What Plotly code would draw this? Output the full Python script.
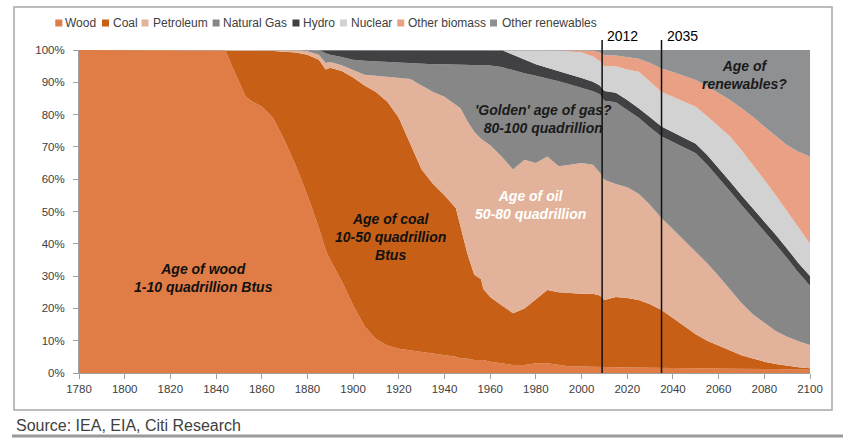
import plotly.graph_objects as go

# ---------------- data (share of world primary energy, %) ----------------
years = [1780, 1800, 1820, 1840, 1844, 1847, 1850, 1853, 1856, 1860, 1865, 1870, 1875,
         1880, 1885, 1888, 1890, 1895, 1900, 1905, 1910, 1915, 1920, 1925, 1930, 1935,
         1940, 1945, 1947, 1950, 1953, 1956, 1957, 1960, 1965, 1970, 1975, 1980, 1985,
         1990, 1995, 2000, 2005, 2008, 2010, 2015, 2020, 2025, 2030, 2035, 2040, 2045,
         2050, 2055, 2060, 2065, 2070, 2075, 2080, 2085, 2090, 2095, 2100]

wood = [100, 100, 100, 100, 100, 95, 90, 85.5, 84, 82.5, 79, 72, 64,
        55, 45, 38, 35, 28.5, 21, 14.5, 10.5, 8.5, 7.5, 7, 6.5, 6,
        5.5, 5, 4.5, 4.5, 4, 4, 4, 3.5, 3, 2.5, 2.5, 3, 3,
        2.5, 2, 2, 2, 1.8, 1.8, 1.8, 1.7, 1.7, 1.6, 1.6, 1.5, 1.5,
        1.5, 1.4, 1.4, 1.3, 1.3, 1.2, 1.2, 1.2, 1.1, 1.1, 1.0]

coal = [0, 0, 0, 0, 0, 5, 10, 14.5, 16, 17.3, 20.7, 27.5, 35.2,
        43.5, 52, 56, 59.5, 65, 70.5, 74.5, 76.5, 75.5, 71.5, 64, 56.5, 52.5,
        49.5, 46, 40.5, 32.5, 26.5, 25, 22, 20, 18, 16, 17.5, 20, 22.7,
        22.5, 22.7, 22.5, 22.5, 22.2, 20.8, 21.7, 21.5, 20.9, 19.7, 17.9, 15.5, 13,
        10.5, 8.6, 7.1, 5.7, 4.2, 3.3, 2.3, 1.6, 1.1, 0.7, 0.5]

petroleum = [0, 0, 0, 0, 0, 0, 0, 0, 0, 0.2, 0.3, 0.5, 0.8,
             1.1, 1.5, 2, 1.8, 1.8, 2.3, 3.3, 5, 7.7, 12.5, 20, 26, 28.5,
             30.5, 32, 37, 41, 44.2, 43.5, 46, 47, 46, 44.5, 46, 42, 41.3,
             39, 39.8, 40.5, 40, 38, 37.2, 35, 34.3, 32.9, 30.7, 28.5, 27.5, 26.5,
             25.8, 24, 21.5, 18.7, 16.2, 13.7, 12, 10.2, 9, 8, 7.2]

natural_gas = [0, 0, 0, 0, 0, 0, 0, 0, 0, 0, 0, 0, 0,
               0.4, 1.5, 3, 2.2, 2.5, 3.2, 4.4, 4.5, 4.6, 4.5, 4.8, 6.7, 8.6,
               10.1, 12.5, 13.5, 17.5, 20.8, 22.9, 23.4, 24.7, 27.7, 30.7, 26.8, 27, 24.2,
               26.3, 24.8, 23.3, 22.7, 24.3, 24.5, 25.3, 24, 23.5, 24, 25.2, 27, 28.8,
               30.2, 30.5, 30.5, 30.6, 30.3, 29.8, 28.5, 26.8, 24.3, 21.2, 18.3]

hydro = [0, 0, 0, 0, 0, 0, 0, 0, 0, 0, 0, 0, 0,
         0, 0, 1, 1.5, 2.2, 3.0, 3.3, 3.5, 3.7, 4.0, 4.2, 4.3, 4.4,
         4.4, 4.5, 4.5, 4.5, 4.5, 4.6, 4.6, 4.8, 5.3, 4.8, 4.2, 3.6, 3.3,
         3.2, 3.1, 3.0, 3.0, 2.7, 3.0, 3.0, 3.0, 3.0, 3.2, 3.1, 3.0, 3.0,
         3.0, 3.0, 3.0, 3.0, 3.0, 3.0, 3.0, 3.0, 3.0, 3.0, 3.0]

nuclear = [0, 0, 0, 0, 0, 0, 0, 0, 0, 0, 0, 0, 0,
           0, 0, 0, 0, 0, 0, 0, 0, 0, 0, 0, 0, 0,
           0, 0, 0, 0, 0, 0, 0, 0, 0, 1.5, 3, 4.4, 5.5,
           6.3, 7.1, 7.9, 7.8, 7.5, 7.7, 8.2, 9.5, 11.3, 11, 10.7, 11, 11.2,
           11.4, 12, 13, 13.9, 14, 13.5, 12.8, 12.2, 11.5, 11, 10]

other_biomass = [0, 0, 0, 0, 0, 0, 0, 0, 0, 0, 0, 0, 0,
                 0, 0, 0, 0, 0, 0, 0, 0, 0, 0, 0, 0, 0,
                 0, 0, 0, 0, 0, 0, 0, 0, 0, 0, 0, 0, 0,
                 0.2, 0.5, 0.8, 1.8, 2.7, 3.4, 3.3, 3.8, 4, 5.8, 7.3, 7.7, 8,
                 8.3, 9.3, 10.2, 11.3, 13, 14.8, 16.5, 18.3, 20.5, 23.5, 27]

other_renewables = [0, 0, 0, 0, 0, 0, 0, 0, 0, 0, 0, 0, 0,
                    0, 0, 0, 0, 0, 0, 0, 0, 0, 0, 0, 0, 0,
                    0, 0, 0, 0, 0, 0, 0, 0, 0, 0, 0, 0, 0,
                    0, 0, 0, 0.2, 0.8, 1.6, 1.7, 2.2, 2.7, 4, 5.7, 6.8, 8,
                    9.3, 11.2, 13.3, 15.5, 18, 20.7, 23.7, 26.7, 29.5, 31.5, 33]

series_names = ["Wood", "Coal", "Petroleum", "Natural Gas", "Hydro", "Nuclear",
                "Other biomass", "Other renewables"]
series_values = [wood, coal, petroleum, natural_gas, hydro, nuclear, other_biomass,
                 other_renewables]
series_colors = ["#E07C46", "#C75F17", "#E2B39A", "#878787", "#414144", "#D2D2D2",
                 "#E9A085", "#8F9092"]

x_ticks = list(range(1780, 2101, 20))
y_ticks = list(range(0, 101, 10))
y_tick_labels = [f"{v}%" for v in y_ticks]

marker_years = [2009, 2035]
marker_labels = ["2012", "2035"]

era_texts = ["Age of wood<br>1-10 quadrillion Btus",
             "Age of coal<br>10-50 quadrillion<br>Btus",
             "Age of oil<br>50-80 quadrillion",
             "'Golden' age of gas?<br>80-100 quadrillion",
             "Age of<br>renewables?"]
era_x = [1834.4, 1916.3, 1977.7, 1983.2, 2071.5]
era_y = [29.5, 42, 51.9, 78.6, 92.3]
era_colors = ["#111111", "#111111", "#FFFFFF", "#1A1A1A", "#1A1A1A"]

source_text = "Source: IEA, EIA, Citi Research"

# ---------------- figure ----------------
W, H = 852, 448
L, R, T, B = 79, 42, 50, 75
PW, PH = W - L - R, H - T - B


def px(x):
    return (x - L) / PW


def py(y):
    return (H - B - y) / PH


FONT = "Liberation Sans, Arial, Helvetica, sans-serif"

fig = go.Figure()
for i, (name, vals, col) in enumerate(zip(series_names, series_values, series_colors)):
    fig.add_trace(go.Scatter(
        x=years, y=vals, name=name, mode="lines",
        stackgroup="energy", groupnorm="percent" if i == 0 else None,
        line=dict(width=0), fillcolor=col,
        showlegend=False, hoverinfo="skip"))

shapes = []
annotations = []

# vertical year markers
for yr, lab in zip(marker_years, marker_labels):
    shapes.append(dict(type="line", xref="x", yref="paper", x0=yr, x1=yr,
                       y0=0, y1=py(40), line=dict(color="#111111", width=1.5)))
    annotations.append(dict(xref="x", yref="paper", x=yr, y=py(36), text=lab,
                            xanchor="left", yanchor="middle", xshift=3, showarrow=False,
                            font=dict(family=FONT, size=14, color="#000000")))

# era labels
for t, x, y, c in zip(era_texts, era_x, era_y, era_colors):
    annotations.append(dict(xref="x", yref="y", x=x, y=y, text=t, showarrow=False,
                            xanchor="center", yanchor="middle", align="center",
                            font=dict(family=FONT, size=14, color=c,
                                      weight="bold", style="italic")))

# custom legend (compact squares like the original)
leg_marker_x = [55.3, 102, 141.5, 212.6, 292.5, 340, 397.2, 490]
leg_text_x = [63.2, 110.7, 151, 221.3, 301, 348.6, 406.3, 500]
leg_y = 23
for name, col, mx, tx in zip(series_names, series_colors, leg_marker_x, leg_text_x):
    shapes.append(dict(type="rect", xref="paper", yref="paper",
                       x0=px(mx), x1=px(mx + 7), y0=py(leg_y + 3.5), y1=py(leg_y - 3.5),
                       line=dict(width=0), fillcolor=col))
    annotations.append(dict(xref="paper", yref="paper", x=px(tx), y=py(leg_y), text=name,
                            xanchor="left", yanchor="middle", showarrow=False,
                            font=dict(family=FONT, size=12, color="#404040")))

# outer frame and source rule
shapes.append(dict(type="rect", xref="paper", yref="paper",
                   x0=px(14), x1=px(832), y0=py(410), y1=py(7),
                   line=dict(color="#A6A6A6", width=1.5), fillcolor="rgba(0,0,0,0)"))
shapes.append(dict(type="line", xref="paper", yref="paper",
                   x0=px(12), x1=px(843), y0=py(436), y1=py(436),
                   line=dict(color="#9A9A9A", width=3)))
annotations.append(dict(xref="paper", yref="paper", x=px(14), y=py(425), text=source_text,
                        xanchor="left", yanchor="middle", showarrow=False,
                        font=dict(family=FONT, size=16, color="#404040")))

fig.update_layout(
    width=W, height=H,
    margin=dict(l=L, r=R, t=T, b=B),
    paper_bgcolor="white", plot_bgcolor="white",
    font=dict(family=FONT, color="#404040"),
    showlegend=False,
    shapes=shapes, annotations=annotations,
)
fig.update_xaxes(range=[1780, 2100], tickvals=x_ticks, ticks="outside", ticklen=5,
                 tickcolor="#A0A0A0", showline=True, linecolor="#A0A0A0", linewidth=1,
                 showgrid=False, zeroline=False, tickfont=dict(size=11.5, color="#404040"))
fig.update_yaxes(range=[0, 100], tickvals=y_ticks, ticktext=y_tick_labels, ticks="outside",
                 ticklen=5, tickcolor="#A0A0A0", showline=True, linecolor="#A0A0A0",
                 linewidth=1, showgrid=False, zeroline=False, ticklabelstandoff=6,
                 tickfont=dict(size=11.5, color="#404040"))

fig.write_html("out.html", config={"displayModeBar": False},
               post_script="document.body.style.margin='0';")
